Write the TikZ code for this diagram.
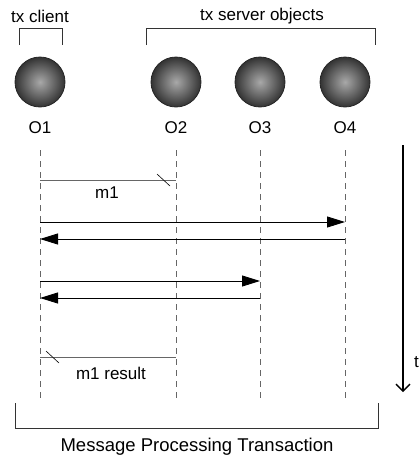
\documentclass[tikz,border=0pt]{standalone}
\usepackage{fontspec}
\setmainfont{Liberation Sans}
\usetikzlibrary{
	positioning,
	arrows.meta
}

\tikzset{
	obj/.style={circle,minimum size=50pt,inner sep=0pt,draw=black!85,line width=0.8pt,
		inner color=gray!68,outer color=black!80},
	lbl/.style={inner sep=0pt,font=\fontsize{17}{20}\selectfont},
	life/.style={gray!80!black,line width=0.7pt,dash pattern=on 6pt off 5pt},
	msg/.style={line width=0.9pt,-{Triangle[length=18pt,width=11pt]}},
	call/.style={gray!80!black,line width=0.8pt},
	tick/.style={line width=0.6pt},
	brace/.style={line width=0.8pt,black!80}
}

\begin{document}
\begin{tikzpicture}[x=1pt,y=-1pt]
	\useasboundingbox (0,0) rectangle (419,459);
	% objects
	\node [obj] (o1) at (40,82)  {};
	\node [obj] (o2) at (176,82) {};
	\node [obj] (o3) at (260,82) {};
	\node [obj] (o4) at (345,82) {};
	\node [lbl] (n1) at (40,128)  {O1};
	\node [lbl] (n2) at (176,128) {O2};
	\node [lbl] (n3) at (260,128) {O3};
	\node [lbl] (n4) at (345,128) {O4};
	% groups
	\node [lbl] (client) at (40,16)  {tx client};
	\node [lbl] (server) at (262,16) {tx server objects};
	\draw [brace] (19,45) -- (19,28) -- (62,28) -- (62,45);
	\draw [brace] (146,45) -- (146,28) -- (375,28) -- (375,45);
	% lifelines
	\foreach \i/\x in {1/40,2/176,3/260,4/345} {
		\coordinate (top\i) at (\x,150);
		\coordinate (bot\i) at (\x,399);
		\draw [life] (top\i) -- (bot\i);
	}
	% messages
	\coordinate (m1a) at (40,180);  \coordinate (m1b) at (176,180);
	\coordinate (c4a) at (40,222);  \coordinate (c4b) at (345,222);
	\coordinate (r4a) at (40,239);  \coordinate (r4b) at (345,239);
	\coordinate (c3a) at (40,281);  \coordinate (c3b) at (260,281);
	\coordinate (r3a) at (40,298);  \coordinate (r3b) at (260,298);
	\coordinate (m2a) at (40,357);  \coordinate (m2b) at (176,357);
	\draw [call] (m1a) -- (m1b);
	\draw [tick] (157,174) -- (170,186);
	\node [lbl] (m1) at (107,193) {m1};
	\draw [msg] (c4a) -- (c4b);
	\draw [msg] (r4b) -- (r4a);
	\draw [msg] (c3a) -- (c3b);
	\draw [msg] (r3b) -- (r3a);
	\draw [call] (m2a) -- (m2b);
	\draw [tick] (46,351) -- (59,363);
	\node [lbl] (m2) at (111,373) {m1 result};
	% time
	\coordinate (ttop) at (403,145);
	\coordinate (tbot) at (403,392);
	\draw [line width=1.3pt,-{Straight Barb[length=7pt,width=14pt]}] (ttop) -- (tbot);
	\node [lbl,anchor=west] (t) at (414,362) {t};
	% transaction
	\draw [brace] (15,403) -- (15,428) -- (378,428) -- (378,403);
	\node [lbl,font=\fontsize{18.5}{22}\selectfont] (trans) at (197,447) {Message Processing Transaction};
\end{tikzpicture}
\end{document}
